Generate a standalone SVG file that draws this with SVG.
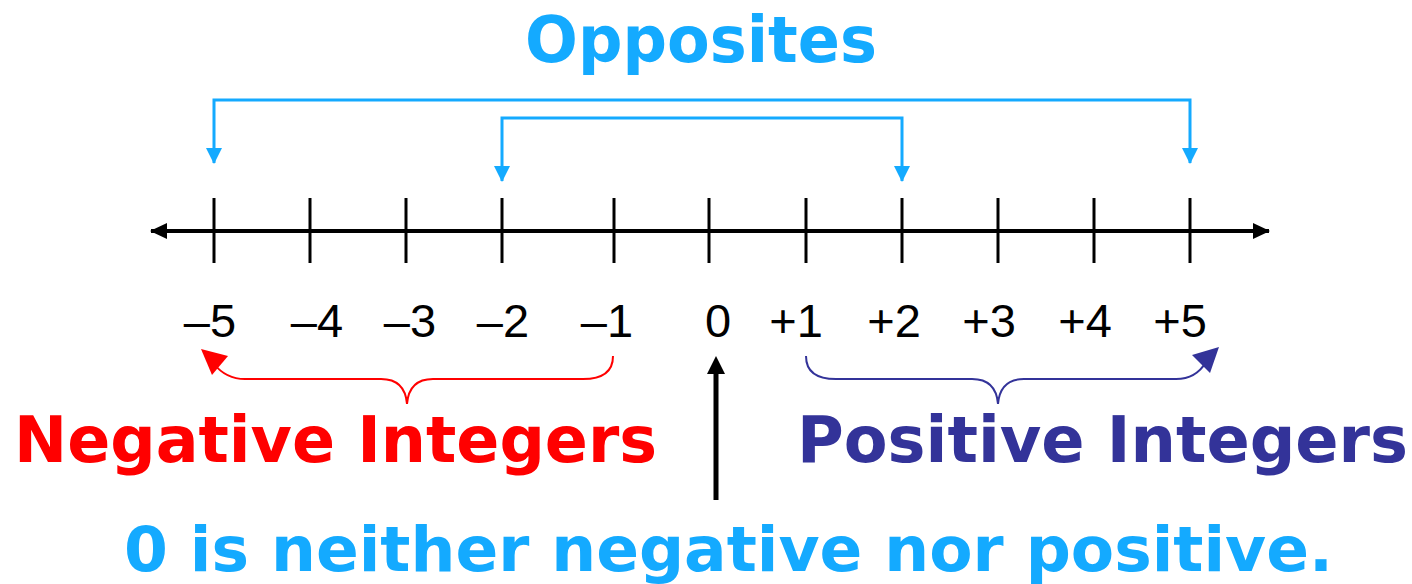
<svg xmlns="http://www.w3.org/2000/svg" width="1412" height="584" viewBox="0 0 1412 584">
  <style>
    .num { font-family: "Liberation Sans", Arial, sans-serif; font-size: 47px; fill: #000; text-anchor: middle; }
    .big { font-family: "DejaVu Sans", Verdana, sans-serif; font-weight: bold; font-size: 64px; }
    .tick { stroke: #000; stroke-width: 3; }
    .opp { fill: none; stroke: #14AAFF; stroke-width: 3; }
  </style>
  <defs>
    <marker id="blueHead" markerUnits="userSpaceOnUse" markerWidth="16" markerHeight="16" refX="15" refY="8" orient="auto-start-reverse" viewBox="0 0 16 16">
      <path d="M0,0 L16,8 L0,16 z" fill="#14AAFF"/>
    </marker>
    <marker id="blackHead" markerUnits="userSpaceOnUse" markerWidth="17" markerHeight="16" refX="16" refY="8" orient="auto-start-reverse" viewBox="0 0 17 16">
      <path d="M0,0 L17,8 L0,16 z" fill="#000"/>
    </marker>
  </defs>

  <g id="title">
    <text class="big" x="525" y="62" textLength="352" lengthAdjust="spacingAndGlyphs" fill="#14AAFF">Opposites</text>
  </g>

  <g id="number-line">
    <line x1="151" y1="231" x2="1269" y2="231" stroke="#000" stroke-width="4" marker-start="url(#blackHead)" marker-end="url(#blackHead)"/>
    <line class="tick" x1="214" y1="198" x2="214" y2="263"/>
    <line class="tick" x1="310" y1="198" x2="310" y2="263"/>
    <line class="tick" x1="406" y1="198" x2="406" y2="263"/>
    <line class="tick" x1="502" y1="198" x2="502" y2="263"/>
    <line class="tick" x1="614" y1="198" x2="614" y2="263"/>
    <line class="tick" x1="709" y1="198" x2="709" y2="263"/>
    <line class="tick" x1="806" y1="198" x2="806" y2="263"/>
    <line class="tick" x1="902" y1="198" x2="902" y2="263"/>
    <line class="tick" x1="998" y1="198" x2="998" y2="263"/>
    <line class="tick" x1="1094" y1="198" x2="1094" y2="263"/>
    <line class="tick" x1="1190" y1="198" x2="1190" y2="263"/>
  </g>

  <g id="labels">
    <text class="num" x="210" y="337">–5</text>
    <text class="num" x="317" y="337">–4</text>
    <text class="num" x="410" y="337">–3</text>
    <text class="num" x="503" y="337">–2</text>
    <text class="num" x="607" y="337">–1</text>
    <text class="num" x="718" y="337">0</text>
    <text class="num" x="796" y="337">+1</text>
    <text class="num" x="894" y="337">+2</text>
    <text class="num" x="989" y="337">+3</text>
    <text class="num" x="1085" y="337">+4</text>
    <text class="num" x="1180" y="337">+5</text>
  </g>

  <g id="connectors">
    <path class="opp" d="M214,163 V100 H1190 V163" marker-start="url(#blueHead)" marker-end="url(#blueHead)"/>
    <path class="opp" d="M502,181 V118 H902 V181" marker-start="url(#blueHead)" marker-end="url(#blueHead)"/>

    <path d="M613,356 Q613,379 583,379 L433,379 Q409,379 407,404 Q405,379 381,379 L245,379 Q226,379 214,364" fill="none" stroke="#FF0000" stroke-width="2"/>
    <polygon points="201,349 228,356 212,375" fill="#FF0000"/>

    <path d="M806,356 Q806,379 836,379 L972,379 Q996,379 998,404 Q1000,379 1024,379 L1176,379 Q1196,379 1206,362" fill="none" stroke="#333399" stroke-width="2"/>
    <polygon points="1219,347 1192,355 1210,373" fill="#333399"/>

    <line x1="716" y1="500" x2="716" y2="370" stroke="#000" stroke-width="5"/>
    <polygon points="716,356 725,374 707,374" fill="#000"/>
  </g>

  <g id="negative">
    <text class="big" x="14" y="462" textLength="643" lengthAdjust="spacingAndGlyphs" fill="#FF0000">Negative Integers</text>
  </g>
  <g id="positive">
    <text class="big" x="797" y="462" textLength="611" lengthAdjust="spacingAndGlyphs" fill="#333399">Positive Integers</text>
  </g>
  <g id="zero-note">
    <text class="big" x="124" y="571" font-size="62" textLength="1209" lengthAdjust="spacingAndGlyphs" fill="#14AAFF" style="font-size:62px">0 is neither negative nor positive.</text>
  </g>
</svg>
